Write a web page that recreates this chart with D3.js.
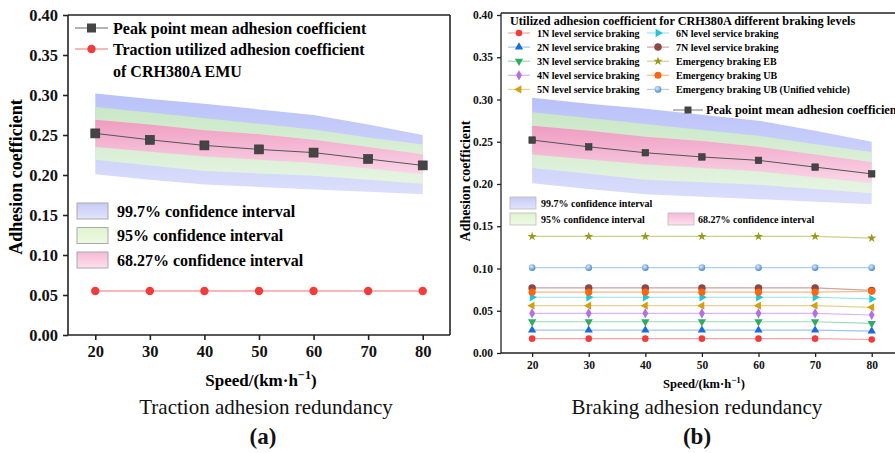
<!DOCTYPE html>
<html>
<head>
<meta charset="utf-8">
<script src="https://cdn.jsdelivr.net/npm/d3@7"></script>
<style>
  html, body { margin: 0; padding: 0; background: #fff; }
  svg { display: block; font-family: "Liberation Serif", "Times New Roman", serif; }
  .b { font-weight: bold; }
</style>
</head>
<body>
<svg id="fig" width="895" height="453"></svg>
<script>
// ---- data ----
const speeds = [20, 30, 40, 50, 60, 70, 80];
const yTicks = [0, 0.05, 0.10, 0.15, 0.20, 0.25, 0.30, 0.35, 0.40];

const peakMean     = [0.252, 0.244, 0.237, 0.232, 0.228, 0.220, 0.212];
const ci997Upper   = [0.302, 0.295, 0.289, 0.282, 0.275, 0.263, 0.250];
const ci95Upper    = [0.285, 0.278, 0.271, 0.264, 0.257, 0.247, 0.238];
const ci6827Upper  = [0.269, 0.263, 0.256, 0.251, 0.244, 0.235, 0.226];
const ci6827Lower  = [0.235, 0.229, 0.223, 0.219, 0.215, 0.208, 0.201];
const ci95Lower    = [0.219, 0.212, 0.205, 0.202, 0.199, 0.194, 0.189];
const ci997Lower   = [0.201, 0.194, 0.188, 0.185, 0.182, 0.179, 0.176];

const tractionUtilized = [0.055, 0.055, 0.055, 0.055, 0.055, 0.055, 0.055];

const brake1N        = [0.017, 0.017, 0.017, 0.017, 0.017, 0.017, 0.016];
const brake2N        = [0.027, 0.027, 0.027, 0.027, 0.027, 0.027, 0.026];
const brake3N        = [0.037, 0.037, 0.037, 0.037, 0.037, 0.037, 0.035];
const brake4N        = [0.047, 0.047, 0.047, 0.047, 0.047, 0.047, 0.045];
const brake5N        = [0.056, 0.056, 0.056, 0.056, 0.056, 0.056, 0.054];
const brake6N        = [0.066, 0.066, 0.066, 0.066, 0.066, 0.066, 0.064];
const brake7N        = [0.077, 0.077, 0.077, 0.077, 0.077, 0.077, 0.074];
const brakeEB        = [0.138, 0.138, 0.138, 0.138, 0.138, 0.138, 0.136];
const brakeUB        = [0.072, 0.072, 0.072, 0.072, 0.072, 0.072, 0.073];
const brakeUBUnified = [0.101, 0.101, 0.101, 0.101, 0.101, 0.101, 0.101];

const brakingLabels = [
  "1N level service braking", "2N level service braking", "3N level service braking",
  "4N level service braking", "5N level service braking", "6N level service braking",
  "7N level service braking", "Emergency braking EB", "Emergency braking UB",
  "Emergency braking UB (Unified vehicle)"
];
const bandLabels = ["99.7% confidence interval", "95% confidence interval", "68.27% confidence interval"];

// ---- styles ----
const brakingSeries = [
  { values: brake1N,        color: "#f23c3c", line: "#f5a3a3", sym: d3.symbolCircle,   size: 34, rot: 0 },
  { values: brake2N,        color: "#1b6be0", line: "#9fc3f2", sym: d3.symbolTriangle, size: 30, rot: 0 },
  { values: brake3N,        color: "#2eac66", line: "#9fd9b6", sym: d3.symbolTriangle, size: 30, rot: 180 },
  { values: brake4N,        color: "#b46ee8", line: "#d9b5f3", sym: d3.symbolDiamond,  size: 30, rot: 0 },
  { values: brake5N,        color: "#d3a012", line: "#e9d08e", sym: d3.symbolTriangle, size: 30, rot: -90 },
  { values: brake6N,        color: "#1ec6d8", line: "#95e4ee", sym: d3.symbolTriangle, size: 30, rot: 90 },
  { values: brake7N,        color: "#8a4846", line: "#cba4a3", sym: d3.symbolCircle,   size: 44, rot: 0 },
  { values: brakeEB,        color: "#9a9a1a", line: "#cfcf8c", sym: d3.symbolStar,     size: 26, rot: 0 },
  { values: brakeUB,        color: "#ff6410", line: "#ffb78c", sym: d3.symbolCircle,   size: 40, rot: 0 },
  { values: brakeUBUnified, color: "#5a9ad8", line: "#acd0f2", sym: d3.symbolCircle,   size: 34, rot: 0 }
];

const svg = d3.select("#fig");
const defs = svg.append("defs");
function vGrad(id, top, bottom) {
  const g = defs.append("linearGradient").attr("id", id)
    .attr("x1", 0).attr("y1", 0).attr("x2", 0).attr("y2", 1);
  g.append("stop").attr("offset", "0%").attr("stop-color", top);
  g.append("stop").attr("offset", "100%").attr("stop-color", bottom);
}
vGrad("gBlue",  "#b8c1f9", "#dcdffb");
vGrad("gGreen", "#c9e7c6", "#e6f5e2");
vGrad("gPink",  "#ef9cc1", "#fad6e8");
vGrad("sBlue",  "#c6cbf6", "#e2e4fb");
vGrad("sGreen", "#e0f3cf", "#eefae4");
vGrad("sPink",  "#f6b8d6", "#fde0ee");
const ballGrad = defs.append("radialGradient").attr("id", "ball")
  .attr("cx", "40%").attr("cy", "35%").attr("r", "65%");
ballGrad.append("stop").attr("offset", "0%").attr("stop-color", "#d8ebfb");
ballGrad.append("stop").attr("offset", "100%").attr("stop-color", "#4a8ad0");

const bands = [
  { upper: ci997Upper,  lower: ci997Lower,  fill: "url(#gBlue)" },
  { upper: ci95Upper,   lower: ci95Lower,   fill: "url(#gGreen)" },
  { upper: ci6827Upper, lower: ci6827Lower, fill: "url(#gPink)" }
];

function superTitle(g, x, y, size) {
  const t = g.append("text").attr("class", "b").attr("x", x).attr("y", y)
    .attr("text-anchor", "middle").attr("font-size", size);
  t.append("tspan").text("Speed/(km·h");
  t.append("tspan").attr("dy", -size * 0.4).attr("font-size", size * 0.72).text("−1");
  t.append("tspan").attr("dy", size * 0.4).text(")");
}

function drawPanel(cfg) {
  const g = svg.append("g");
  const x = d3.scaleLinear().domain(cfg.xDomain).range([cfg.left, cfg.right]);
  const y = d3.scaleLinear().domain([0, 0.4]).range([cfg.bottom, cfg.top]);

  // confidence bands
  bands.forEach(b => {
    const area = d3.area().x((d, i) => x(speeds[i]))
      .y0((d, i) => y(b.lower[i])).y1(d => y(d));
    g.append("path").datum(b.upper).attr("d", area).attr("fill", b.fill);
  });

  // frame
  g.append("line").attr("x1", cfg.left).attr("x2", cfg.frameRight)
    .attr("y1", cfg.frameTop).attr("y2", cfg.frameTop)
    .attr("stroke", "#222").attr("stroke-width", cfg.axisW);
  if (cfg.frameRight < 895) {
    g.append("line").attr("x1", cfg.frameRight).attr("x2", cfg.frameRight)
      .attr("y1", cfg.frameTop).attr("y2", cfg.bottom)
      .attr("stroke", "#222").attr("stroke-width", cfg.axisW);
  }

  // axes
  const yAxis = d3.axisLeft(y).tickValues(yTicks).tickFormat(d3.format(".2f"))
    .tickSize(cfg.tick).tickPadding(cfg.tickPad);
  const ya = g.append("g").attr("transform", `translate(${cfg.left},0)`).call(yAxis);
  ya.select(".domain").attr("d", `M0,${cfg.bottom}V${cfg.frameTop}`);
  const xAxis = d3.axisBottom(x).tickValues(speeds).tickSize(cfg.tick).tickPadding(cfg.tickPad);
  const xa = g.append("g").attr("transform", `translate(0,${cfg.bottom})`).call(xAxis);
  xa.select(".domain").attr("d", `M${cfg.left},0H${cfg.frameRight}`);
  [ya, xa].forEach(a => {
    a.selectAll(".domain").attr("stroke", "#222").attr("stroke-width", cfg.axisW);
    a.selectAll(".tick line").attr("stroke", "#222").attr("stroke-width", cfg.axisW);
    a.selectAll("text").attr("class", "b").attr("font-size", cfg.tickFont)
      .attr("font-family", "Liberation Serif, Times New Roman, serif").attr("fill", "#111");
  });

  // axis titles
  g.append("text").attr("class", "b").attr("font-size", cfg.yTitleFont)
    .attr("transform", `translate(${cfg.yTitleX},${cfg.yTitleY}) rotate(-90)`)
    .attr("text-anchor", "middle").text("Adhesion coefficient");
  superTitle(g, cfg.xTitleX, cfg.xTitleY, cfg.xTitleFont);

  // peak mean line
  const line = d3.line().x((d, i) => x(speeds[i])).y(d => y(d));
  g.append("path").datum(peakMean).attr("d", line).attr("fill", "none")
    .attr("stroke", "#555").attr("stroke-width", 1);
  g.selectAll(null).data(peakMean).join("rect")
    .attr("x", (d, i) => x(speeds[i]) - cfg.sq / 2).attr("y", d => y(d) - cfg.sq / 2)
    .attr("width", cfg.sq).attr("height", cfg.sq)
    .attr("fill", "#454545").attr("stroke", "#333").attr("stroke-width", 0.6);

  return { g, x, y, line };
}

// ---------- panel (a): traction ----------
const A = drawPanel({
  xDomain: [15, 85], left: 68, right: 450, top: 15, bottom: 335,
  frameTop: 15, frameRight: 450, axisW: 1.6, tick: 5, tickPad: 5, tickFont: 16.5,
  yTitleFont: 18, yTitleX: 22, yTitleY: 177, xTitleFont: 17, xTitleX: 261, xTitleY: 386, sq: 9
});
A.g.append("path").datum(tractionUtilized).attr("d", A.line).attr("fill", "none")
  .attr("stroke", "#f7a0a0").attr("stroke-width", 1.3);
A.g.selectAll(null).data(tractionUtilized).join("circle")
  .attr("cx", (d, i) => A.x(speeds[i])).attr("cy", d => A.y(d)).attr("r", 4.2)
  .attr("fill", "#f23c3c");

// legend (a)
const la = A.g.append("g");
la.append("line").attr("x1", 75).attr("x2", 108).attr("y1", 28).attr("y2", 28)
  .attr("stroke", "#666").attr("stroke-width", 1);
la.append("rect").attr("x", 91.5 - 4.5).attr("y", 28 - 4.5).attr("width", 9).attr("height", 9)
  .attr("fill", "#454545");
la.append("text").attr("class", "b").attr("font-size", 16).attr("x", 113).attr("y", 28)
  .attr("dy", "0.35em").text("Peak point mean adhesion coefficient");
la.append("line").attr("x1", 75).attr("x2", 108).attr("y1", 49).attr("y2", 49)
  .attr("stroke", "#f7a0a0").attr("stroke-width", 1.3);
la.append("circle").attr("cx", 91.5).attr("cy", 49).attr("r", 4.2).attr("fill", "#f23c3c");
la.append("text").attr("class", "b").attr("font-size", 16).attr("x", 113).attr("y", 49)
  .attr("dy", "0.35em").text("Traction utilized adhesion coefficient");
la.append("text").attr("class", "b").attr("font-size", 16).attr("x", 113).attr("y", 71)
  .attr("dy", "0.35em").text("of CRH380A EMU");

const swA = ["url(#sBlue)", "url(#sGreen)", "url(#sPink)"];
bandLabels.forEach((t, i) => {
  const cy = 211 + i * 24.5;
  la.append("rect").attr("x", 77).attr("y", cy - 8).attr("width", 31).attr("height", 16)
    .attr("fill", swA[i]).attr("stroke", "#aaa").attr("stroke-width", 1);
  la.append("text").attr("class", "b").attr("font-size", 16).attr("x", 117).attr("y", cy)
    .attr("dy", "0.35em").text(t);
});

// ---------- panel (b): braking ----------
const B = drawPanel({
  xDomain: [14.5, 85], left: 501, right: 900, top: 15, bottom: 353,
  frameTop: 13, frameRight: 900, axisW: 1.3, tick: 4, tickPad: 4, tickFont: 11.5,
  yTitleFont: 14, yTitleX: 470, yTitleY: 181, xTitleFont: 12.5, xTitleX: 704, xTitleY: 388, sq: 6.5
});

function markerPath(s) { return d3.symbol().type(s.sym).size(s.size)(); }
brakingSeries.forEach((s, k) => {
  B.g.append("path").datum(s.values).attr("d", B.line).attr("fill", "none")
    .attr("stroke", s.line).attr("stroke-width", 1.2);
  B.g.selectAll(null).data(s.values).join("path")
    .attr("d", markerPath(s))
    .attr("transform", (d, i) => `translate(${B.x(speeds[i])},${B.y(d)}) rotate(${s.rot})`)
    .attr("fill", k === 9 ? "url(#ball)" : s.color);
});

// legend (b)
const lb = B.g.append("g");
lb.append("text").attr("class", "b").attr("font-size", 12.2).attr("x", 510).attr("y", 20.5)
  .attr("dy", "0.35em").text("Utilized adhesion coefficient for CRH380A different braking levels");
brakingSeries.forEach((s, k) => {
  const col = Math.floor(k / 5), row = k % 5;
  const x0 = col === 0 ? 508 : 647, cy = 33 + row * 14.1;
  lb.append("line").attr("x1", x0).attr("x2", x0 + 22).attr("y1", cy).attr("y2", cy)
    .attr("stroke", s.line).attr("stroke-width", 1.2);
  lb.append("path").attr("d", markerPath(s))
    .attr("transform", `translate(${x0 + 11},${cy}) rotate(${s.rot})`)
    .attr("fill", k === 9 ? "url(#ball)" : s.color);
  lb.append("text").attr("class", "b").attr("font-size", 10).attr("x", x0 + 29).attr("y", cy)
    .attr("dy", "0.35em").text(brakingLabels[k]);
});
lb.append("line").attr("x1", 673).attr("x2", 703).attr("y1", 110).attr("y2", 110)
  .attr("stroke", "#777").attr("stroke-width", 1);
lb.append("rect").attr("x", 688 - 3.5).attr("y", 110 - 3.5).attr("width", 7).attr("height", 7)
  .attr("fill", "#454545");
lb.append("text").attr("class", "b").attr("font-size", 12.3).attr("x", 706).attr("y", 110)
  .attr("dy", "0.35em").text("Peak point mean adhesion coefficient");

const swB = [
  { x: 510, cy: 203, tx: 541 },
  { x: 510, cy: 219, tx: 541 },
  { x: 668, cy: 219, tx: 698 }
];
bandLabels.forEach((t, i) => {
  const p = swB[i];
  lb.append("rect").attr("x", p.x).attr("y", p.cy - 6).attr("width", 26).attr("height", 12)
    .attr("fill", swA[i]).attr("stroke", "#bbb").attr("stroke-width", 0.8);
  lb.append("text").attr("class", "b").attr("font-size", 10).attr("x", p.tx).attr("y", p.cy)
    .attr("dy", "0.35em").text(t);
});

// ---------- captions ----------
const caps = [
  { x: 266, tagX: 263, text: "Traction adhesion redundancy", tag: "(a)" },
  { x: 697, tagX: 697, text: "Braking adhesion redundancy", tag: "(b)" }
];
caps.forEach(c => {
  svg.append("text").attr("x", c.x).attr("y", 414).attr("text-anchor", "middle")
    .attr("font-size", 21).attr("fill", "#111").text(c.text);
  svg.append("text").attr("class", "b").attr("x", c.tagX).attr("y", 444).attr("text-anchor", "middle")
    .attr("font-size", 23).attr("fill", "#111").text(c.tag);
});
</script>
</body>
</html>
